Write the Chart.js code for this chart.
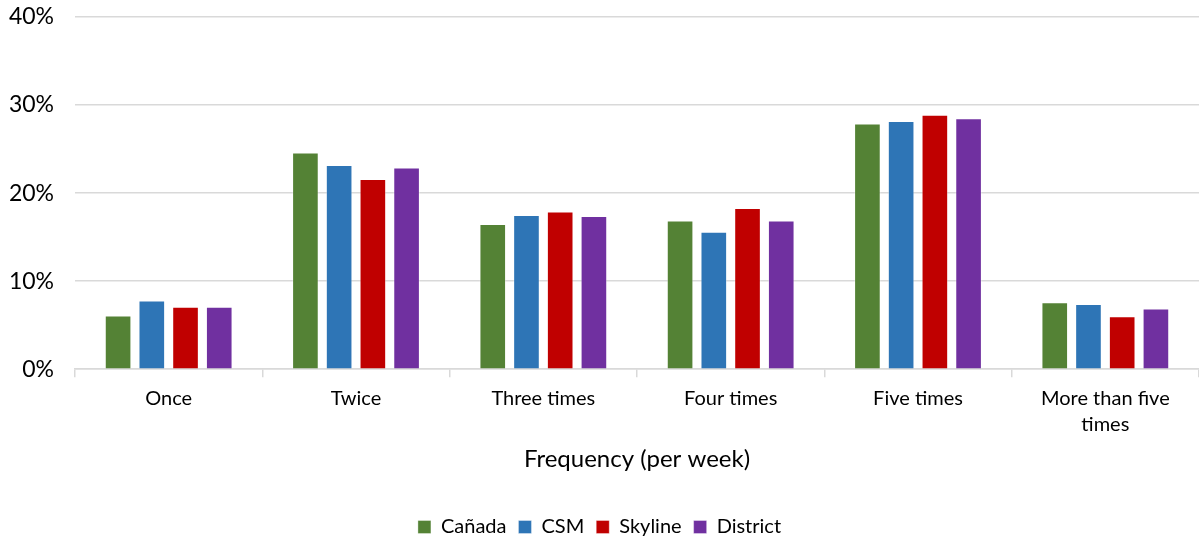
<html lang="en">
<head>
  <meta charset="UTF-8">
  <title>Frequency (per week)</title>
  <style>
    body { margin: 0; background: #fff; }
    #wrap { width: 1199px; height: 542px; }
  </style>
  <script src="https://cdn.jsdelivr.net/npm/chart.js"></script>
</head>
<body>
  <div id="wrap"><canvas id="chart"></canvas></div>
  <script>
    const categories = ['Once', 'Twice', 'Three times', 'Four times', 'Five times', ['More than five', 'times']];
    const canada   = [6.1, 24.6, 16.5, 16.9, 27.9, 7.6];
    const csm      = [7.8, 23.2, 17.5, 15.6, 28.2, 7.4];
    const skyline  = [7.1, 21.6, 17.9, 18.3, 28.9, 6.0];
    const district = [7.1, 22.9, 17.4, 16.9, 28.5, 6.9];
    const yTicks = [0, 10, 20, 30, 40];

    const font = 'Lato, "DejaVu Sans", sans-serif';
    const ink = '#000';
    const grid = '#d9d9d9';

    function ds(label, data, color) {
      return { label, data, backgroundColor: color, borderColor: 'rgba(255,255,255,0.35)', borderWidth: 1,
               barPercentage: 0.79, categoryPercentage: 0.72 };
    }

    new Chart(document.getElementById('chart'), {
      type: 'bar',
      data: {
        labels: categories,
        datasets: [
          ds('Cañada', canada, '#548235'),
          ds('CSM', csm, '#2E75B6'),
          ds('Skyline', skyline, '#C00000'),
          ds('District', district, '#7030A0')
        ]
      },
      options: {
        responsive: true,
        maintainAspectRatio: false,
        animation: false,
        layout: { padding: { top: 17, right: 0, bottom: -5, left: 0 } },
        plugins: {
          tooltip: { enabled: false },
          legend: {
            position: 'bottom',
            labels: { font: { family: font, size: 20 }, color: ink, boxWidth: 13, boxHeight: 13, padding: 12 }
          }
        },
        scales: {
          x: {
            grid: { display: true, offset: true, drawOnChartArea: false, color: grid, lineWidth: 1.5, tickLength: 8 },
            border: { color: grid, width: 1.5 },
            ticks: { font: { family: font, size: 20, lineHeight: 1.3 }, color: ink, padding: 8, maxRotation: 0 },
            title: { display: true, text: 'Frequency (per week)', font: { family: font, size: 24 }, color: ink, padding: { top: 0, bottom: 31 } }
          },
          y: {
            min: 0, max: 40,
            afterBuildTicks: axis => { axis.ticks = yTicks.map(v => ({ value: v })); },
            afterFit: axis => { axis.paddingTop = 0; axis.paddingBottom = 0; axis.width = 75; },
            grid: { color: grid, lineWidth: 1.5, drawTicks: false },
            border: { display: false },
            ticks: { font: { family: font, size: 23 }, color: ink, padding: 21, callback: v => v + '%' }
          }
        }
      }
    });
  </script>
</body>
</html>
